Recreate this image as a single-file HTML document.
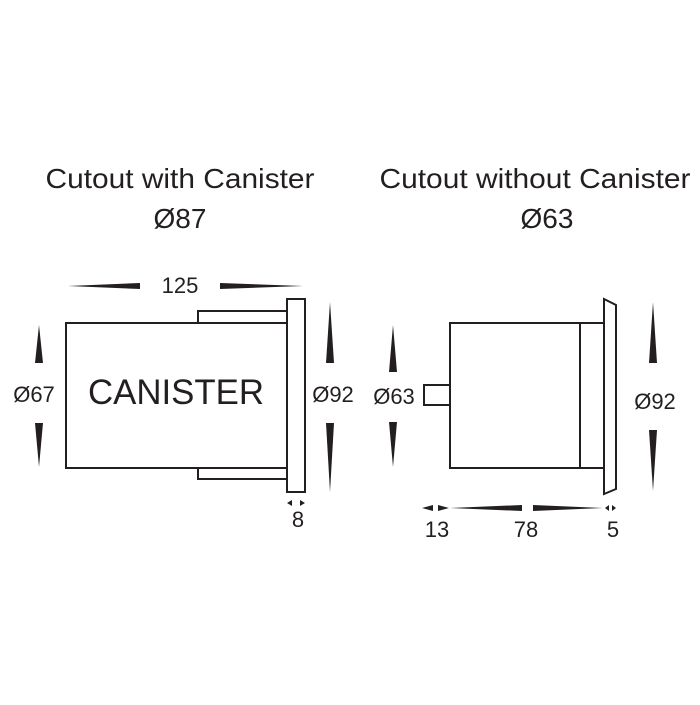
<!DOCTYPE html>
<html><head><style>html,body{margin:0;padding:0;background:#fff}</style></head>
<body>
<svg width="700" height="700" xmlns="http://www.w3.org/2000/svg" font-family="Liberation Sans, sans-serif" fill="#231f20">
<g font-size="28">
<text x="180" y="188" text-anchor="middle" textLength="269" lengthAdjust="spacingAndGlyphs">Cutout with Canister</text>
<text x="180" y="228" text-anchor="middle">Ø87</text>
<text x="535" y="188" text-anchor="middle" textLength="311" lengthAdjust="spacingAndGlyphs">Cutout without Canister</text>
<text x="547" y="228" text-anchor="middle">Ø63</text>
</g>
<g fill="none" stroke="#231f20" stroke-width="2">
<rect x="66" y="323" width="221" height="145"/>
<polyline points="198,323 198,311 287,311"/>
<polyline points="198,468 198,479 287,479"/>
<rect x="287" y="299" width="18" height="193"/>
<rect x="450" y="323" width="154" height="145"/>
<line x1="580" y1="323" x2="580" y2="468"/>
<rect x="424" y="385" width="26" height="20"/>
<polygon points="604,299 616,305 616,489 604,494"/>
</g>
<g font-size="22" text-anchor="middle">
<text x="180" y="293">125</text>
<text x="34" y="402">Ø67</text>
<text x="333" y="402">Ø92</text>
<text x="298" y="527">8</text>
<text x="394" y="404">Ø63</text>
<text x="655" y="409">Ø92</text>
<text x="437" y="537">13</text>
<text x="526" y="537">78</text>
<text x="613" y="537">5</text>
</g>
<g font-size="35"><text x="176" y="404" text-anchor="middle" textLength="176" lengthAdjust="spacingAndGlyphs">CANISTER</text></g>
<g>
<polygon points="68,286 140,283 140,289"/>
<polygon points="220,283 220,289 303,286"/>
<polygon points="39,325 35,363 43,363"/>
<polygon points="35,423 43,423 39,467"/>
<polygon points="330,302 326,363 334,363"/>
<polygon points="326,423 334,423 330,492"/>
<polygon points="393,325 389,372 397,372"/>
<polygon points="389,422 397,422 393,467"/>
<polygon points="653,302 649,363 657,363"/>
<polygon points="649,430 657,430 653,491"/>
<polygon points="287,503 292,500 292,506"/>
<polygon points="305,503 300,500 300,506"/>
<polygon points="422,508 433,505 433,511"/>
<polygon points="449,508 438,505 438,511"/>
<polygon points="450,508 522,505 522,511"/>
<polygon points="533,505 533,511 603,508"/>
<polygon points="605,508 609,505 609,511"/>
<polygon points="616,508 612,505 612,511"/>
</g>
</svg>
</body></html>
